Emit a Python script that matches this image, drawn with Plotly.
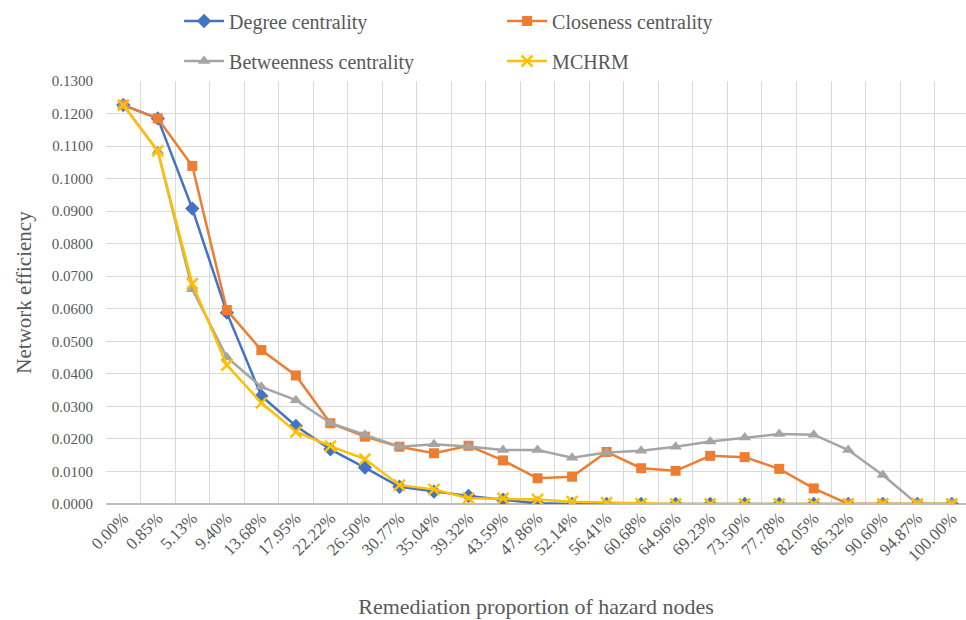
import plotly.graph_objects as go

# Share of hazard nodes remediated (x categories)
proportions = ["0.00%", "0.85%", "5.13%", "9.40%", "13.68%", "17.95%", "22.22%",
               "26.50%", "30.77%", "35.04%", "39.32%", "43.59%", "47.86%", "52.14%",
               "56.41%", "60.68%", "64.96%", "69.23%", "73.50%", "77.78%", "82.05%",
               "86.32%", "90.60%", "94.87%", "100.00%"]

# Network efficiency under each remediation strategy
degree = [0.1226, 0.1185, 0.0908, 0.0588, 0.0332, 0.0240, 0.0168, 0.0112, 0.0053,
          0.0038, 0.0025, 0.0013, 0.0002, 0.0000, 0.0000, 0.0000, 0.0000, 0.0000,
          0.0000, 0.0000, 0.0000, 0.0000, 0.0000, 0.0000, 0.0000]
closeness = [0.1226, 0.1185, 0.1039, 0.0596, 0.0473, 0.0395, 0.0248, 0.0207, 0.0176,
             0.0156, 0.0179, 0.0134, 0.0079, 0.0084, 0.0160, 0.0110, 0.0102, 0.0148,
             0.0144, 0.0108, 0.0048, 0.0000, 0.0000, 0.0000, 0.0000]
betweenness = [0.1226, 0.1085, 0.0660, 0.0451, 0.0360, 0.0319, 0.0249, 0.0213, 0.0176,
               0.0184, 0.0177, 0.0166, 0.0166, 0.0142, 0.0158, 0.0164, 0.0176, 0.0192,
               0.0204, 0.0215, 0.0213, 0.0166, 0.0089, 0.0000, 0.0000]
mchrm = [0.1226, 0.1085, 0.0677, 0.0427, 0.0311, 0.0222, 0.0178, 0.0138, 0.0058,
         0.0045, 0.0018, 0.0017, 0.0014, 0.0007, 0.0004, 0.0001, 0.0000, 0.0000,
         0.0000, 0.0000, 0.0000, 0.0000, 0.0000, 0.0000, 0.0000]

y_ticks = [i / 100 for i in range(14)]

SERIF = "Liberation Serif"
TEXT = "#595959"
GRID = "#D9D9D9"

fig = go.Figure()

series = [
    ("Degree centrality", degree, "#4472C4", "diamond", 11, "legend"),
    ("Closeness centrality", closeness, "#ED7D31", "square", 10, "legend"),
    ("Betweenness centrality", betweenness, "#A5A5A5", "triangle-up", 11, "legend2"),
    ("MCHRM", mchrm, "#FFC000", "x-thin", 11, "legend2"),
]
for name, vals, color, sym, size, leg in series:
    marker = dict(symbol=sym, size=size, color=color,
                  line=dict(color=color, width=2.5 if sym == "x-thin" else 0))
    fig.add_trace(go.Scatter(
        x=proportions, y=vals, name=name, mode="lines+markers",
        line=dict(color=color, width=2.5), marker=marker, legend=leg,
    ))

legend_common = dict(
    orientation="h", xanchor="left", yanchor="middle", x=0.085,
    font=dict(family=SERIF, size=20, color=TEXT),
    bgcolor="rgba(0,0,0,0)", entrywidth=268, entrywidthmode="pixels",
    itemwidth=40,
)

fig.update_layout(
    width=966, height=620,
    margin=dict(l=106, r=0, t=81, b=116),
    paper_bgcolor="white", plot_bgcolor="white",
    showlegend=True,
    legend=dict(**legend_common, y=1 + (81 - 21) / 423, yref="paper"),
    legend2=dict(**legend_common, y=1 + (81 - 61) / 423, yref="paper"),
    xaxis=dict(
        type="category", tickson="boundaries", range=[-0.5, 24.41],
        showgrid=True, gridcolor=GRID, gridwidth=1,
        showline=False, zeroline=False, ticks="",
        tickangle=-45, tickfont=dict(family=SERIF, size=17, color=TEXT),
        title=dict(text="Remediation proportion of hazard nodes",
                   font=dict(family=SERIF, size=22, color=TEXT), standoff=34),
    ),
    yaxis=dict(
        range=[0, 0.13], tickvals=y_ticks, tickformat=".4f",
        showgrid=True, gridcolor=GRID, gridwidth=1,
        zeroline=True, zerolinecolor="#BFBFBF", zerolinewidth=1.5,
        showline=False, ticks="", ticklabelstandoff=12,
        tickfont=dict(family=SERIF, size=15, color=TEXT),
        title=dict(text="Network efficiency",
                   font=dict(family=SERIF, size=21, color=TEXT), standoff=14),
    ),
)

fig.write_html("out.html")
